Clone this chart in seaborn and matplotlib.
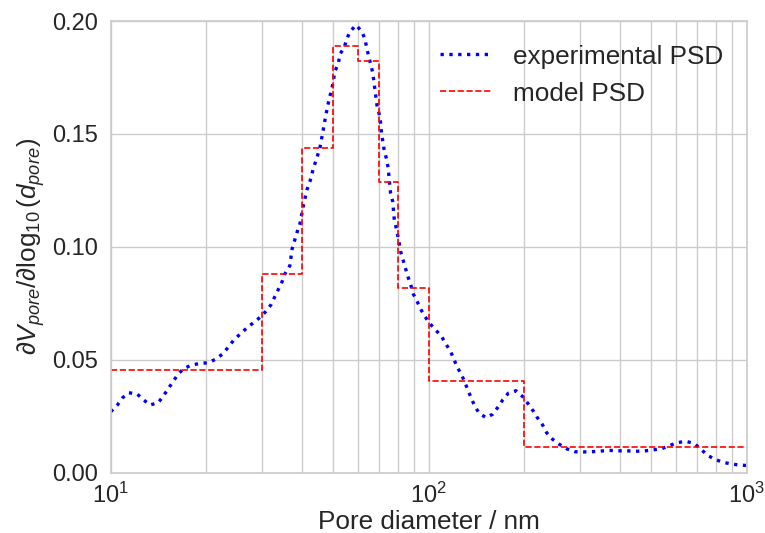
import matplotlib
matplotlib.use("Agg")
import matplotlib.pyplot as plt
import seaborn as sns

# experimental pore size distribution
pore_diam = [
    10.0, 10.5, 10.9, 11.4, 12.1, 12.7, 13.3, 14.1, 14.6, 15.2, 15.7, 16.3, 17.0,
    18.0, 19.1, 20.3, 21.4, 22.5, 23.4, 24.4, 25.5, 26.8, 28.1, 29.5, 30.7, 31.9,
    33.7, 34.6, 35.3, 36.6, 37.2, 38.6, 39.4, 40.3, 41.4, 42.3, 43.4, 44.6, 45.5,
    46.4, 47.5, 48.7, 49.6, 50.7, 52.0, 52.6, 54.3, 55.2, 56.6, 59.1, 61.6, 63.1,
    63.8, 65.4, 66.7, 67.8, 68.9, 70.3, 71.1, 72.3, 73.8, 74.6, 75.9, 77.1, 77.9,
    78.9, 79.9, 80.8, 81.8, 83.2, 84.7, 86.3, 88.0, 89.5, 92.1, 94.4, 97.4, 100.9,
    105.4, 109.9, 113.4, 117.3, 123.0, 127.0, 133.2, 136.6, 139.9, 144.3, 151.4,
    159.0, 165.5, 170.9, 178.0, 188.2, 197.6, 205.8, 213.3, 219.6, 228.3, 235.0,
    245.4, 257.4, 271.6, 288.5, 306.4, 325.6, 348.3, 369.8, 394.7, 419.4, 447.7,
    475.3, 506.3, 540.4, 571.0, 605.1, 643.0, 683.0, 718.4, 751.8, 794.9, 844.1,
    892.5, 947.8, 1000.0,
]
psd_exp = [
    0.0270, 0.0300, 0.0332, 0.0354, 0.0349, 0.0322, 0.0300, 0.0310, 0.0337, 0.0374,
    0.0403, 0.0437, 0.0462, 0.0477, 0.0484, 0.0487, 0.0503, 0.0526, 0.0555, 0.0588,
    0.0613, 0.0641, 0.0664, 0.0688, 0.0713, 0.0743, 0.0813, 0.0846, 0.0880, 0.0917,
    0.0991, 0.1067, 0.1104, 0.1178, 0.1252, 0.1288, 0.1348, 0.1399, 0.1439, 0.1503,
    0.1584, 0.1658, 0.1698, 0.1776, 0.1813, 0.1853, 0.1884, 0.1919, 0.1953, 0.1982,
    0.1953, 0.1919, 0.1882, 0.1820, 0.1771, 0.1694, 0.1618, 0.1576, 0.1503, 0.1436,
    0.1385, 0.1348, 0.1237, 0.1200, 0.1126, 0.1089, 0.1052, 0.1016, 0.0974, 0.0939,
    0.0901, 0.0863, 0.0827, 0.0791, 0.0757, 0.0724, 0.0691, 0.0660, 0.0631, 0.0602,
    0.0569, 0.0536, 0.0467, 0.0433, 0.0363, 0.0325, 0.0292, 0.0263, 0.0244, 0.0259,
    0.0292, 0.0322, 0.0352, 0.0363, 0.0337, 0.0304, 0.0273, 0.0244, 0.0211, 0.0177,
    0.0148, 0.0126, 0.0106, 0.0093, 0.0092, 0.0093, 0.0096, 0.0099, 0.0097, 0.0097,
    0.0095, 0.0096, 0.0101, 0.0106, 0.0120, 0.0133, 0.0139, 0.0130, 0.0104, 0.0078,
    0.0059, 0.0046, 0.0039, 0.0034, 0.0032,
]

# model PSD: bin edges and bin heights
model_edges = [10, 30, 40, 50, 60, 70, 80, 100, 200, 1000]
model_values = [0.0456, 0.0879, 0.1438, 0.1891, 0.1822, 0.1289, 0.0817, 0.0405, 0.0115]

sns.set_theme(style="whitegrid")
plt.rcParams["font.family"] = ["Liberation Sans", "DejaVu Sans"]
plt.rcParams["mathtext.fontset"] = "custom"
plt.rcParams["mathtext.rm"] = "Liberation Sans"
plt.rcParams["mathtext.it"] = "Liberation Sans:italic"
plt.rcParams["mathtext.bf"] = "Liberation Sans:bold"

fig, ax = plt.subplots(figsize=(7.65, 5.33), dpi=100)
fig.subplots_adjust(left=0.1447, right=0.976, bottom=0.1131, top=0.9606)

sns.lineplot(x=pore_diam, y=psd_exp, ax=ax, color="blue", linestyle=":",
             linewidth=2.4, label="experimental PSD")
sns.lineplot(x=model_edges, y=model_values + [model_values[-1]], ax=ax,
             color="red", linestyle="--", linewidth=1.2, drawstyle="steps-post",
             label="model PSD")

ax.set_xscale("log")
ax.set_xlim(10, 1000)
ax.set_ylim(0, 0.20)
ax.set_yticks([0.00, 0.05, 0.10, 0.15, 0.20])
ax.yaxis.set_major_formatter(matplotlib.ticker.FormatStrFormatter("%.2f"))
ax.grid(True, which="both", color="0.8", linewidth=1.0)
ax.tick_params(axis="x", which="major", labelsize=17, pad=1)
ax.tick_params(axis="y", which="major", labelsize=17, pad=3)

ax.set_xlabel("Pore diameter / nm", fontsize=18.8, labelpad=2)
ax.set_ylabel(r"$\partial V_{pore}/\partial \log_{10}(d_{pore})$", fontsize=18.8,
              labelpad=4)
ax.legend(loc="upper right", frameon=False, fontsize=18.8)

fig.savefig("out.png", dpi=100)
plt.close(fig)
